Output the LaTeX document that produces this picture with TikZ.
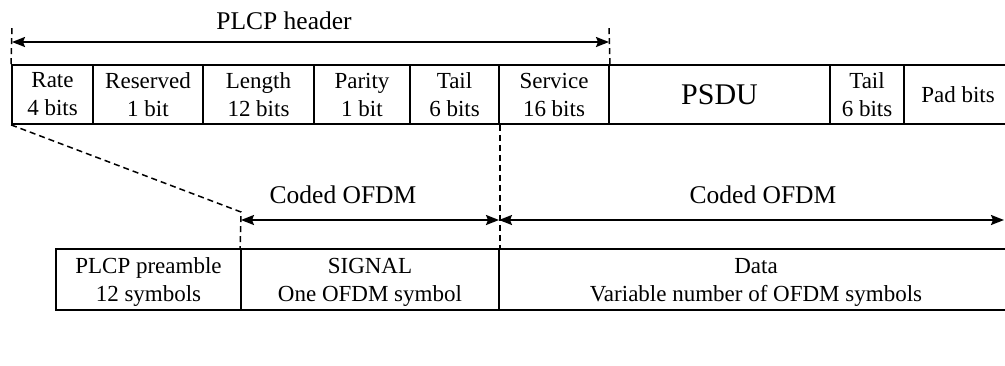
\documentclass[tikz,border=0pt]{standalone}
\usepackage{fontspec}
\setmainfont{Liberation Serif}
\usetikzlibrary{arrows.meta}

\tikzset{
  frame/.style={line width=1.8pt},
  field/.style={draw, frame, inner sep=0pt, align=center,
    font=\fontsize{23}{28}\selectfont},
  toprow/.style={field, minimum height=59pt},
  botrow/.style={field, minimum height=61pt},
  guide/.style={line width=1.5pt, dash pattern=on 6pt off 4pt},
  span/.style={line width=1.8pt, {Stealth[length=13pt,width=10pt,inset=2pt]}-{Stealth[length=13pt,width=10pt,inset=2pt]}},
  caption/.style={anchor=base, inner sep=0pt, font=\fontsize{25.5}{30}\selectfont}
}
% invisible strut that lowers a centred two-line label slightly
\newcommand{\lowerstrut}{\rule{0pt}{20pt}}

\begin{document}
\begin{tikzpicture}[x=1pt, y=-1pt]
  \clip (0,0) rectangle (1005,365);
  \fill[white] (0,0) rectangle (1005,365);

  % PLCP header fields and the frame that follows
  \node[toprow, minimum width=81pt]  (rate)     at (52.5,94.5)  {Rate\\4 bits};
  \node[toprow, minimum width=110pt] (reserved) at (148,94.5)   {Reserved\\1 bit};
  \node[toprow, minimum width=111pt] (length)   at (258.5,94.5) {Length\\12 bits};
  \node[toprow, minimum width=96pt]  (parity)   at (362,94.5)   {Parity\\1 bit};
  \node[toprow, minimum width=89pt]  (tailA)    at (454.5,94.5) {Tail\\6 bits};
  \node[toprow, minimum width=110pt] (service)  at (554,94.5)   {Service\\16 bits};
  \node[toprow, minimum width=221pt, font=\fontsize{30}{34}\selectfont]
                                     (psdu)     at (719.5,94.5) {PSDU};
  \node[toprow, minimum width=74pt]  (tailB)    at (867,94.5)   {Tail\\6 bits};
  \node[toprow, minimum width=108pt] (pad)      at (958,94.5)   {Pad bits};

  % PPDU fields
  \node[botrow, minimum width=185pt] (preamble) at (148.5,279.5)
    {\lowerstrut PLCP preamble\\12 symbols};
  \node[botrow, minimum width=258pt] (signal)   at (370,279.5)
    {\lowerstrut SIGNAL\\One OFDM symbol};
  \node[botrow, minimum width=514pt] (data)     at (756,279.5)
    {\lowerstrut Data\\Variable number of OFDM symbols};

  % guide coordinates
  \coordinate (hdrL) at (12,28);
  \coordinate (hdrR) at (609,28);
  \coordinate (spanL) at (12,42);
  \coordinate (spanR) at (609,42);
  \coordinate (sigTop) at (241,212);
  \coordinate (ofdmA) at (241,220);
  \coordinate (ofdmB) at (499,220);
  \coordinate (ofdmC) at (1004,220);

  % dashed guides
  \draw[guide] (rate.north west) -- (hdrL);
  \draw[guide] (service.north east) -- (hdrR);
  \draw[guide] (rate.south west) -- (sigTop) -- (signal.north west);
  \draw[guide] (tailA.south east) -- (signal.north east);

  % extent arrows
  \draw[span] (spanL) -- (spanR);
  \draw[span] (ofdmA) -- (ofdmB);
  \draw[span] (ofdmB) -- (ofdmC);

  % captions
  \node[caption] (hdrlabel) at (284,29)  {PLCP header};
  \node[caption] (ofdm1)    at (343,203) {Coded OFDM};
  \node[caption] (ofdm2)    at (763,203) {Coded OFDM};
\end{tikzpicture}
\end{document}
